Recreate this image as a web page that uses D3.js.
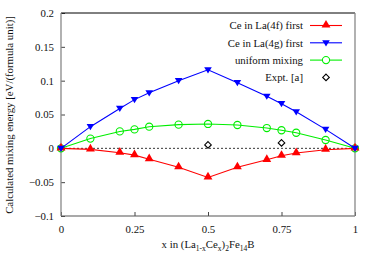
<!DOCTYPE html>
<html>
<head>
<meta charset="utf-8">
<script src="https://cdn.jsdelivr.net/npm/d3@7"></script>
<style>
  body { margin: 0; background: #fff; }
  text { font-family: "Liberation Serif", "DejaVu Serif", serif; }
</style>
</head>
<body>
<svg id="chart" width="375" height="263"></svg>
<script>
// mixing energy vs Ce content
const xs = [0, 0.1, 0.2, 0.25, 0.3, 0.4, 0.5, 0.6, 0.7, 0.75, 0.8, 0.9, 1];
const red4f = [0, -0.0015, -0.0065, -0.010, -0.016, -0.028, -0.043, -0.028, -0.017, -0.011, -0.007, -0.002, 0];
const blue4g = [0, 0.032, 0.059, 0.072, 0.082, 0.100, 0.116, 0.097, 0.077, 0.066, 0.054, 0.028, 0];
const uniform = [0, 0.0144, 0.025, 0.028, 0.032, 0.035, 0.036, 0.0345, 0.030, 0.0267, 0.023, 0.0123, 0];
const exptX = [0.5, 0.75];
const exptY = [0.005, 0.008];
const xTicks = [0, 0.25, 0.5, 0.75, 1];
const yTicks = [-0.1, -0.05, 0, 0.05, 0.1, 0.15, 0.2];

const svg = d3.select('#chart');
const mLeft = 61, mRight = 355, mTop = 13, mBottom = 216;
const fs = 10.8;

const x = d3.scaleLinear().domain([0, 1]).range([mLeft, mRight]);
const y = d3.scaleLinear().domain([-0.1, 0.2]).range([mBottom, mTop]);

// zero reference line
svg.append('line')
  .attr('x1', x(0)).attr('x2', x(1))
  .attr('y1', y(0)).attr('y2', y(0))
  .attr('stroke', '#000').attr('stroke-width', 0.8)
  .attr('stroke-dasharray', '2,2');

// axes, ticks point inward
const yAxis = svg.append('g').attr('transform', `translate(${mLeft},0)`)
  .call(d3.axisLeft(y).tickValues(yTicks).tickSizeInner(-4).tickSizeOuter(0).tickPadding(7)
    .tickFormat(d => d3.format('')(+d.toFixed(2))));
const xAxis = svg.append('g').attr('transform', `translate(0,${mBottom})`)
  .call(d3.axisBottom(x).tickValues(xTicks).tickSizeInner(-4).tickSizeOuter(0).tickPadding(9)
    .tickFormat(d => d3.format('')(d)));
[yAxis, xAxis].forEach(a => {
  a.select('.domain').remove();
  a.selectAll('line').attr('stroke', '#444');
  a.selectAll('text').attr('font-size', fs).attr('fill', '#111')
    .style('font-family', '"Liberation Serif", serif');
});

// frame
svg.append('line').attr('x1', mLeft).attr('x2', mRight).attr('y1', mTop).attr('y2', mTop).attr('stroke', '#000').attr('stroke-width', 1);
svg.append('line').attr('x1', mLeft).attr('x2', mRight).attr('y1', mBottom).attr('y2', mBottom).attr('stroke', '#555').attr('stroke-width', 1.2);
svg.append('line').attr('x1', mLeft).attr('x2', mLeft).attr('y1', mTop).attr('y2', mBottom).attr('stroke', '#888').attr('stroke-width', 1.3);
svg.append('line').attr('x1', mRight).attr('x2', mRight).attr('y1', mTop).attr('y2', mBottom).attr('stroke', '#888').attr('stroke-width', 1.3);

const line = d3.line().x(d => x(d[0])).y(d => y(d[1]));
const triUp = d3.symbol().type(d3.symbolTriangle).size(34);
const triDown = 'M-3.8,-2.6L3.8,-2.6L0,3.6Z';

function series(vals, color, marker) {
  const pts = xs.map((v, i) => [v, vals[i]]);
  svg.append('path').datum(pts).attr('d', line)
    .attr('fill', 'none').attr('stroke', color).attr('stroke-width', 1.1);
  const g = svg.append('g');
  pts.forEach(p => {
    if (marker === 'up') {
      g.append('path').attr('d', triUp()).attr('transform', `translate(${x(p[0])},${y(p[1]) - 0.5})`).attr('fill', color);
    } else if (marker === 'down') {
      g.append('path').attr('d', triDown).attr('transform', `translate(${x(p[0])},${y(p[1])})`).attr('fill', color);
    } else {
      g.append('circle').attr('cx', x(p[0])).attr('cy', y(p[1])).attr('r', 3.6)
        .attr('fill', 'none').attr('stroke', color).attr('stroke-width', 1.1);
    }
  });
}

series(uniform, '#00ee00', 'circle');
series(red4f, '#ff0000', 'up');
series(blue4g, '#0000ff', 'down');

const diamond = 'M0,-3.3L3.3,0L0,3.3L-3.3,0Z';
exptX.forEach((v, i) => {
  svg.append('path').attr('d', diamond).attr('transform', `translate(${x(v)},${y(exptY[i])})`)
    .attr('fill', 'none').attr('stroke', '#000').attr('stroke-width', 1.1);
});

// legend
const legend = [
  { label: 'Ce in La(4f) first', color: '#ff0000', m: 'up' },
  { label: 'Ce in La(4g) first', color: '#0000ff', m: 'down' },
  { label: 'uniform mixing', color: '#00ee00', m: 'circle' },
  { label: 'Expt. [a]', color: '#000', m: 'diamond' }
];
legend.forEach((d, i) => {
  const ly = 25.5 + i * 17.3;
  svg.append('text').attr('x', 303).attr('y', ly + 3.7).attr('text-anchor', 'end')
    .attr('font-size', fs).attr('fill', '#111').text(d.label);
  if (d.m !== 'diamond') {
    svg.append('line').attr('x1', 310).attr('x2', 342).attr('y1', ly).attr('y2', ly)
      .attr('stroke', d.color).attr('stroke-width', 1.1);
  }
  const t = `translate(326,${ly})`;
  if (d.m === 'up') svg.append('path').attr('d', triUp()).attr('transform', `translate(326,${ly - 0.5})`).attr('fill', d.color);
  else if (d.m === 'down') svg.append('path').attr('d', triDown).attr('transform', t).attr('fill', d.color);
  else if (d.m === 'circle') svg.append('circle').attr('cx', 326).attr('cy', ly).attr('r', 3.6).attr('fill', '#fff').attr('stroke', d.color).attr('stroke-width', 1.1);
  else svg.append('path').attr('d', diamond).attr('transform', t).attr('fill', 'none').attr('stroke', '#000').attr('stroke-width', 1.1);
});

// axis titles
svg.append('text').attr('transform', 'translate(13,115) rotate(-90)').attr('text-anchor', 'middle')
  .attr('font-size', fs).attr('fill', '#111').text('Calculated mixing energy [eV/(formula unit)]');

const xl = svg.append('text').attr('x', 208).attr('y', 248).attr('text-anchor', 'middle')
  .attr('font-size', fs).attr('fill', '#111');
xl.append('tspan').text('x in (La');
xl.append('tspan').attr('font-size', 7.5).attr('dy', 2.5).text('1-x');
xl.append('tspan').attr('dy', -2.5).text('Ce');
xl.append('tspan').attr('font-size', 7.5).attr('dy', 2.5).text('x');
xl.append('tspan').attr('dy', -2.5).text(')');
xl.append('tspan').attr('font-size', 7.5).attr('dy', 2.5).text('2');
xl.append('tspan').attr('dy', -2.5).text('Fe');
xl.append('tspan').attr('font-size', 7.5).attr('dy', 2.5).text('14');
xl.append('tspan').attr('dy', -2.5).text('B');
</script>
</body>
</html>
